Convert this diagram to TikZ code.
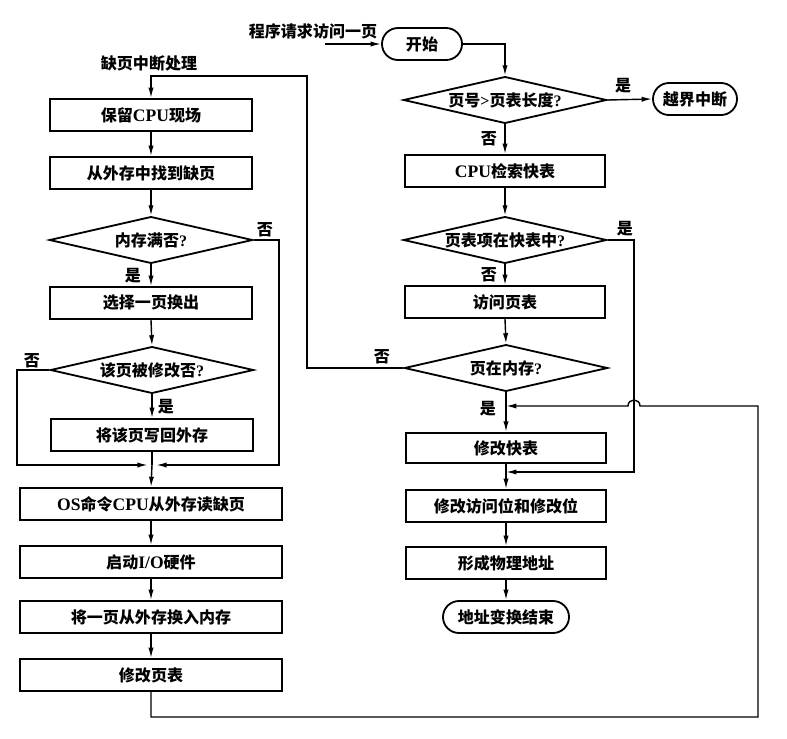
\documentclass[tikz,border=0pt]{standalone}
\usepackage{fontspec}
\setmainfont{Noto Sans CJK SC}
\newfontfamily\latn{Liberation Serif}
\usetikzlibrary{arrows.meta,shapes.geometric}
\begin{document}
\begin{tikzpicture}[x=0.025cm,y=-0.025cm,
	font=\fontsize{11.4}{13}\selectfont\bfseries,
	box/.style={draw,line width=1.3pt,minimum width=5.03cm,minimum height=0.8cm,inner sep=0pt},
	wbox/.style={box,minimum width=6.53cm},
	cond/.style={draw,line width=1.3pt,diamond,aspect=4.4,inner sep=0pt,minimum width=5.08cm,minimum height=1.17cm},
	term/.style={draw,line width=1.3pt,rounded corners=0.4cm,minimum height=0.8cm,inner sep=0pt},
	arr/.style={line width=1pt,-{Latex[length=2.6mm,width=1.3mm]}},
	ln/.style={line width=1pt}]
	\useasboundingbox (0,0) rectangle (787,738);
	\node (save) [box] at (151,115) {保留{\latn\fontsize{12.5}{13}\selectfont CPU}现场};
	\node (find) [box] at (151,173) {从外存中找到缺页};
	\node (full) [cond] at (151,240) {内存满否{\latn ?}};
	\node (pick) [box] at (151,303) {选择一页换出};
	\node (dirty) [cond] at (152,370) {该页被修改否{\latn ?}};
	\node (wback) [box] at (152,435) {将该页写回外存};
	\coordinate (jn) at (152,465);
	\node (osread) [wbox] at (151,504) {{\latn\fontsize{12.5}{13}\selectfont OS}命令{\latn\fontsize{12.5}{13}\selectfont CPU}从外存读缺页};
	\node (io) [wbox] at (151,562) {启动{\latn\fontsize{12.5}{13}\selectfont I/O}硬件};
	\node (swapin) [wbox] at (151,617) {将一页从外存换入内存};
	\node (updpt) [wbox] at (151,675) {修改页表};
	\node (start) [term,minimum width=2cm] at (422,44) {开始};
	\node (lenchk) [cond] at (505,100) {页号{\latn >}页表长度{\latn ?}};
	\node (trap) [term,minimum width=2.1cm] at (695,99) {越界中断};
	\node (tlb) [box,minimum width=4.98cm] at (505,171) {{\latn\fontsize{12.5}{13}\selectfont CPU}检索快表};
	\node (intlb) [cond] at (505,240) {页表项在快表中{\latn ?}};
	\node (pt) [box,minimum width=4.98cm] at (505,302) {访问页表};
	\node (inmem) [cond] at (506,368) {页在内存{\latn ?}};
	\node (updtlb) [box,minimum width=5cm,minimum height=0.76cm] at (506,448) {修改快表};
	\node (updbits) [box,minimum width=5cm] at (506,506) {修改访问位和修改位};
	\node (phys) [box,minimum width=5cm] at (506,563) {形成物理地址};
	\node (done) [term,minimum width=3.15cm] at (506,617) {地址变换结束};
	\coordinate (j1) at (506,406);
	\coordinate (j2) at (506,472);
	\node (req) at (313,31) {程序请求访问一页};
	\node (fault) at (149,63) {缺页中断处理};
	\draw[arr] (325,44) -- (start.west);
	\draw[arr] (start.east) -| (lenchk.north);
	\draw[arr] (lenchk.east) -- (trap.west) node[pos=0.35,above=1pt] {是};
	\draw[arr] (lenchk.south) -- (tlb.north) node[midway,left=2pt] {否};
	\draw[arr] (tlb.south) -- (intlb.north);
	\draw[arr] (intlb.south) -- (pt.north) node[midway,left=2pt] {否};
	\draw[arr] (pt.south) -- (inmem.north);
	\draw[arr] (inmem.south) -- (updtlb.north);
	\node at (488,409) {是};
	\draw[arr] (updtlb.south) -- (updbits.north);
	\draw[arr] (updbits.south) -- (phys.north);
	\draw[arr] (phys.south) -- (done.north);
	\draw[arr] (intlb.east) -| (634,472) -- (j2);
	\node at (625,229) {是};
	\draw[arr] (inmem.west) -| (307,76) -| (save.north);
	\node at (382,357) {否};
	\draw[arr] (save.south) -- (find.north);
	\draw[arr] (find.south) -- (full.north);
	\draw[arr] (full.south) -- (pick.north);
	\node at (133,276) {是};
	\draw[arr] (pick.south) -- (dirty.north);
	\draw[arr] (dirty.south) -- (wback.north);
	\node at (166,407) {是};
	\draw[arr] (full.east) -| (279,465) -- ([xshift=3pt]jn);
	\node at (265,230) {否};
	\draw[arr] (dirty.west) -| (17,465) -- ([xshift=-3pt]jn);
	\node at (32,361) {否};
	\draw[ln] (wback.south) -- (jn);
	\draw[arr] (jn) -- (osread.north);
	\draw[arr] (osread.south) -- (io.north);
	\draw[arr] (io.south) -- (swapin.north);
	\draw[arr] (swapin.south) -- (updpt.north);
	\draw[arr] (updpt.south) |- (758,717) |- (640,406) .. controls (640,398) and (628,398) .. (628,406) -- (j1);
\end{tikzpicture}
\end{document}
